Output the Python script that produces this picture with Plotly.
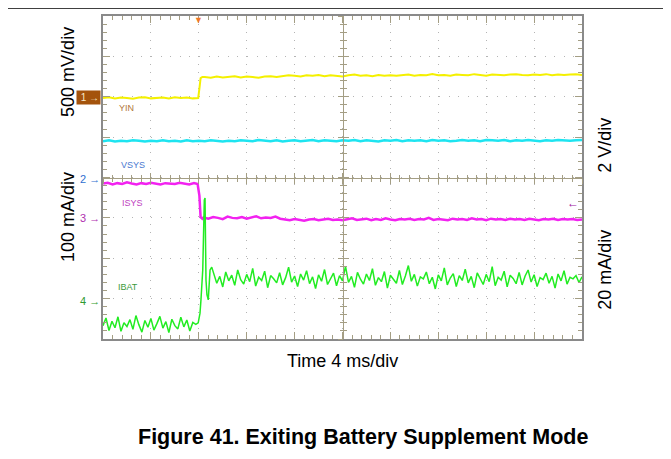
import plotly.graph_objects as go

# time base in ms (4 ms/div, 10 div); trace levels in screen divisions (0 = bottom, 8 = top)
T_STEP = 8.0

# VIN (ch1)
yin_pre = [5.97, 5.99, 5.96, 5.98, 5.97, 5.95, 5.98, 5.99, 5.96, 5.97, 5.98, 5.96, 5.99, 5.97, 5.98, 5.96]
yin_edge_t = [7.95, 8.05, 8.15, 8.3]
yin_edge = [5.97, 6.2, 6.46, 6.49]
yin_post = [6.49, 6.47, 6.50, 6.48, 6.49, 6.51, 6.48, 6.50, 6.49, 6.47, 6.50, 6.51, 6.49,
            6.51, 6.53, 6.52, 6.50, 6.53, 6.52, 6.54, 6.51, 6.53, 6.52, 6.50, 6.53, 6.55, 6.52, 6.53, 6.51,
            6.54, 6.52, 6.53, 6.52,
            6.53, 6.55, 6.52, 6.54, 6.53, 6.56, 6.53, 6.54, 6.52, 6.55, 6.54, 6.53, 6.56, 6.54, 6.52, 6.55,
            6.54, 6.53, 6.55, 6.56, 6.54, 6.53, 6.55, 6.54, 6.56, 6.53, 6.55, 6.54, 6.55, 6.56, 6.54]

# VSYS (ch2)
vsys = [4.90, 4.92, 4.89, 4.91, 4.90, 4.92, 4.91, 4.89, 4.91, 4.90, 4.92, 4.90, 4.91, 4.89, 4.92, 4.90, 4.91, 4.90, 4.92, 4.91,
        4.89, 4.91, 4.90, 4.92, 4.91, 4.90, 4.93, 4.91, 4.90, 4.92, 4.89, 4.91, 4.92, 4.90, 4.91, 4.93, 4.90, 4.92, 4.91, 4.90,
        4.92, 4.91, 4.93, 4.90, 4.92, 4.91, 4.89, 4.92, 4.91, 4.93, 4.90, 4.92, 4.91, 4.92, 4.90, 4.93, 4.91, 4.92, 4.90, 4.91,
        4.93, 4.91, 4.92, 4.90, 4.93, 4.92, 4.91, 4.93, 4.90, 4.92, 4.91, 4.93, 4.92, 4.90, 4.92, 4.91, 4.93, 4.92, 4.91, 4.92,
        4.93]

# ISYS (ch3)
isys_pre = [3.85, 3.87, 3.83, 3.86, 3.84, 3.88, 3.85, 3.83, 3.86, 3.84, 3.87, 3.85, 3.83, 3.86, 3.85, 3.84, 3.87, 3.85, 3.83, 3.86]
isys_edge_t = [7.9, 8.05, 8.15, 8.3]
isys_edge = [3.84, 3.55, 3.02, 2.98]
isys_post = [3.01, 2.98, 3.02, 3.00, 2.97, 3.03, 3.00, 2.99, 3.02, 2.98, 3.01, 3.04, 2.99, 3.01, 3.00, 3.03, 2.98,
             2.96, 2.94, 2.97, 2.95, 2.93, 2.96, 2.97, 2.94, 2.96, 2.98, 2.95, 2.96, 2.94, 2.97, 2.99, 2.95, 2.96, 2.98, 2.94, 2.97,
             2.95, 2.99, 2.96, 2.94, 2.97, 2.96, 2.98, 2.95, 2.97, 2.96, 3.00, 2.95, 2.97, 2.96, 2.94, 2.98, 2.96, 2.97, 2.95, 2.99,
             2.96, 2.97, 2.94, 2.98, 2.96, 2.97, 2.95, 2.98, 2.96, 2.97, 2.95, 2.98, 2.96, 2.94, 2.97, 2.96, 2.98, 2.95, 2.97, 2.96,
             2.97, 2.95, 2.96]

# IBAT (ch4)
ibat_pre = [0.33, 0.52, 0.21, 0.44, 0.28, 0.55, 0.19, 0.40, 0.31, 0.48, 0.24, 0.58, 0.35, 0.17, 0.46, 0.29,
            0.51, 0.22, 0.38, 0.56, 0.27, 0.43, 0.16, 0.49, 0.33, 0.25, 0.54, 0.30, 0.47, 0.20, 0.41, 0.36]
ibat_edge_t = [7.95, 8.10, 8.18, 8.33, 8.46, 8.52, 8.60, 8.68, 8.79, 8.94, 9.08]
ibat_edge = [0.40, 0.64, 0.97, 1.71, 3.44, 3.49, 1.46, 1.10, 0.97, 1.71, 1.78]
ibat_post = [1.62, 1.38, 1.55, 1.29, 1.66, 1.44, 1.58, 1.33, 1.71, 1.47,
             1.36, 1.60, 1.42, 1.75, 1.31, 1.53, 1.45, 1.68, 1.27, 1.57,
             1.49, 1.39, 1.64, 1.34, 1.52, 1.78, 1.41, 1.56, 1.30, 1.61,
             1.46, 1.69, 1.37, 1.54, 1.25, 1.59, 1.43, 1.72, 1.35, 1.50,
             1.63, 1.32, 1.57, 1.44, 1.80, 1.40, 1.55, 1.28, 1.65, 1.48,
             1.36, 1.61, 1.45, 1.74, 1.33, 1.52, 1.42, 1.67, 1.26, 1.58,
             1.47, 1.38, 1.70, 1.35, 1.56, 1.82, 1.43, 1.60, 1.31, 1.54,
             1.49, 1.66, 1.37, 1.53, 1.24, 1.59, 1.44, 1.76, 1.34, 1.51,
             1.62, 1.30, 1.57, 1.45, 1.73, 1.39, 1.55, 1.27, 1.64, 1.48,
             1.35, 1.60, 1.42, 1.79, 1.32, 1.53, 1.46, 1.68, 1.29, 1.58,
             1.50, 1.37, 1.65, 1.34, 1.56, 1.71, 1.41, 1.59, 1.30, 1.52,
             1.47, 1.63, 1.38, 1.55, 1.26, 1.61, 1.44, 1.69, 1.36, 1.53,
             1.49, 1.57, 1.40, 1.54]


def times(start, step, n):
    return [round(start + i * step, 3) for i in range(n)]


FONT = "Arial, Liberation Sans, sans-serif"
TICK = "#a49e84"

fig = go.Figure()

# empty traces so the centre crosshair axes get drawn
for xa, ya in [("x2", "y2"), ("x3", "y3")]:
    fig.add_trace(go.Scatter(x=[None], y=[None], xaxis=xa, yaxis=ya, mode="lines",
                             hoverinfo="skip", showlegend=False))

fig.add_trace(go.Scatter(x=times(0, 0.5, len(yin_pre)) + yin_edge_t + times(8.5, 0.5, len(yin_post)),
                         y=yin_pre + yin_edge + yin_post, mode="lines",
                         line=dict(color="#f4f000", width=2)))
fig.add_trace(go.Scatter(x=times(0, 0.5, len(vsys)), y=vsys, mode="lines",
                         line=dict(color="#1ee4f0", width=2.5)))
fig.add_trace(go.Scatter(x=times(0, 0.4, len(isys_pre)) + isys_edge_t + times(8.4, 0.4, len(isys_post)),
                         y=isys_pre + isys_edge + isys_post, mode="lines",
                         line=dict(color="#f222f0", width=2.5)))
fig.add_trace(go.Scatter(x=times(0, 0.25, len(ibat_pre)) + ibat_edge_t + times(9.25, 0.25, len(ibat_post)),
                         y=ibat_pre + ibat_edge + ibat_post, mode="lines",
                         line=dict(color="#22ec22", width=1.5)))

frame = dict(showline=True, linecolor="#8a8a8a", linewidth=2, mirror="ticks",
             ticks="inside", tickcolor=TICK, ticklen=7, showticklabels=False,
             zeroline=False, showgrid=True, gridcolor="#b4b4b4", gridwidth=1, fixedrange=True)
cross = dict(anchor="free", position=0.5, showline=True, linecolor=TICK, linewidth=1,
             ticklen=5, tickcolor=TICK, showticklabels=False, showgrid=False,
             zeroline=False, fixedrange=True)

# the page body adds an 8px offset, so the figure is 8px smaller and margins are shifted
fig.update_layout(
    width=663, height=451,
    margin=dict(l=95, r=89, t=8, b=120, autoexpand=False),
    paper_bgcolor="white", plot_bgcolor="white",
    showlegend=False,
    font=dict(family=FONT, color="black"),
    xaxis=dict(range=[0, 40], tick0=0, dtick=4, griddash="1px,7px",
               minor=dict(dtick=0.8, ticks="inside", ticklen=4, tickcolor=TICK, showgrid=False), **frame),
    yaxis=dict(range=[0, 8], tick0=0, dtick=1, griddash="1px,8.6px",
               minor=dict(dtick=0.2, ticks="inside", ticklen=4, tickcolor=TICK, showgrid=False), **frame),
    xaxis2=dict(overlaying="x", range=[0, 40], dtick=4, ticks="inside",
                minor=dict(dtick=0.8, ticks="inside", ticklen=3, tickcolor=TICK), **cross),
    xaxis3=dict(overlaying="x", range=[0, 40], dtick=4, ticks="outside",
                minor=dict(dtick=0.8, ticks="outside", ticklen=3, tickcolor=TICK), **cross),
    yaxis2=dict(overlaying="y", range=[0, 8], dtick=1, ticks="inside",
                minor=dict(dtick=0.2, ticks="inside", ticklen=3, tickcolor=TICK), **cross),
    yaxis3=dict(overlaying="y", range=[0, 8], dtick=1, ticks="outside",
                minor=dict(dtick=0.2, ticks="outside", ticklen=3, tickcolor=TICK), **cross),
)

# rule across the top of the page
fig.add_shape(type="line", xref="paper", yref="paper", x0=-0.2, x1=1.19, y0=1.025, y1=1.025,
              line=dict(color="black", width=1.5))

# trigger marker
fig.add_annotation(x=T_STEP, y=1.0, xref="x", yref="paper", text="▼", showarrow=False,
                   yanchor="top", yshift=3, font=dict(size=9, color="#f07828"))

# channel markers
fig.add_annotation(x=-0.004, y=5.97, xref="paper", yref="y", text=" 1 →", showarrow=False,
                   xanchor="right", yanchor="middle", bgcolor="#a4530c", borderpad=1,
                   font=dict(size=10, color="#f6e6c8"))
for lab, lev, col in [("2", 3.96, "#3070d0"), ("3", 3.0, "#b030b0"), ("4", 0.94, "#2f9a2f")]:
    fig.add_annotation(x=-0.002, y=lev, xref="paper", yref="y", text=lab + " →", showarrow=False,
                       xanchor="right", yanchor="middle", font=dict(size=11, color=col))
fig.add_annotation(x=0.998, y=3.37, xref="paper", yref="y", text="←", showarrow=False,
                   xanchor="right", yanchor="middle", font=dict(size=12, color="#a020a0"))

# trace labels
for lab, tx, lev, col in [("YIN", 1.17, 5.72, "#b0763a"), ("VSYS", 1.34, 4.31, "#4a78d0"),
                          ("ISYS", 1.42, 3.36, "#c040c0"), ("IBAT", 1.09, 1.29, "#3a9a3a")]:
    fig.add_annotation(x=tx, y=lev, text=lab, showarrow=False, xanchor="left", yanchor="middle",
                       font=dict(size=9, color=col))

# scale titles
for txt, px, py, ang in [("500 mV/div", -0.073, 0.827, -90), ("100 mA/div", -0.073, 0.378, -90),
                         ("2 V/div", 1.048, 0.601, -90), ("20 mA/div", 1.048, 0.214, -90),
                         ("Time 4 ms/div", 0.501, -0.068, 0)]:
    fig.add_annotation(x=px, y=py, xref="paper", yref="paper", text=txt, textangle=ang,
                       xanchor="center", yanchor="middle", showarrow=False, font=dict(size=18))

fig.add_annotation(x=0.543, y=-0.303, xref="paper", yref="paper",
                   text="<b>Figure 41. Exiting Battery Supplement Mode</b>",
                   xanchor="center", yanchor="middle", showarrow=False, font=dict(size=21.5))

fig.write_html("out.html")
